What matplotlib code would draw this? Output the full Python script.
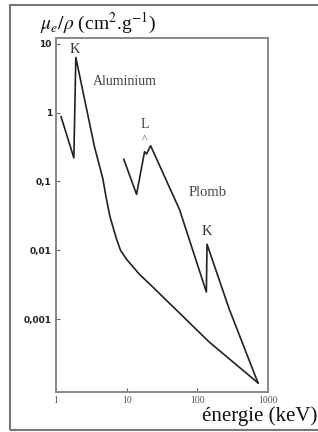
import matplotlib.pyplot as plt
from matplotlib.patches import Rectangle

plt.rcParams['mathtext.fontset'] = 'stix'

# energies (keV) and mass attenuation (cm2/g)
al_energy = [1.18, 1.79, 1.91, 3.5, 4.6, 5.1, 5.8, 7.2, 8.2, 10, 15.2, 23, 147, 720]
al_mu = [0.87, 0.22, 6.3, 0.32, 0.11, 0.06, 0.031, 0.0145, 0.01, 0.0074, 0.0045, 0.003, 4.7e-4, 1.2e-4]

pb_energy = [9.1, 13.8, 17.9, 19.1, 21.8, 56, 134, 137, 283, 720]
pb_mu = [0.21, 0.065, 0.27, 0.25, 0.33, 0.039, 0.0025, 0.0123, 0.0014, 1.2e-4]

x_ticks = [1, 10, 100, 1000]
x_labels = ["1", "10", "100", "1000"]
y_ticks = [10, 1, 0.1, 0.01, 0.001]
y_labels = ["10", "1", "0,1", "0,01", "0,001"]

fig = plt.figure(figsize=(3.18, 4.32), dpi=100)
ax = fig.add_axes([0.176, 0.093, 0.667, 0.819])

ax.plot(al_energy, al_mu, color="#222222", lw=1.2)
ax.plot(pb_energy, pb_mu, color="#222222", lw=1.2)

ax.set_xscale("log")
ax.set_yscale("log")
ax.set_xlim(1, 1000)
ax.set_ylim(10 ** -4.05, 10 ** 1.08)
ax.minorticks_off()

ax.set_xticks(x_ticks)
ax.set_xticklabels(x_labels, family="Liberation Serif", fontsize=7, color="#555555")
ax.set_yticks(y_ticks)
ax.set_yticklabels(y_labels, fontsize=6.5, fontweight="bold", color="#222222")
ax.tick_params(direction="in", length=3, width=0.8, color="#666666", pad=3)

for s in ax.spines.values():
    s.set_color("#888888")
    s.set_linewidth(1.4)

serif = "Liberation Serif"
ax.text(1.85, 8.2, "K", family=serif, fontsize=10.5, color="#333333", ha="center", va="center")
ax.text(3.3, 2.8, "Aluminium", family=serif, fontsize=10, color="#444444", ha="left", va="center")
ax.text(17.9, 0.67, "L", family=serif, fontsize=10, color="#444444", ha="center", va="center")
ax.text(18, 0.40, "^", family=serif, fontsize=8, color="#444444", ha="center", va="center")
ax.text(142, 0.069, "Plomb", family=serif, fontsize=10.5, color="#444444", ha="center", va="center")
ax.text(136, 0.019, "K", family=serif, fontsize=10.5, color="#333333", ha="center", va="center")

fig.text(0.125, 0.932, r"$\mu_e/\rho$ (cm$^2$.g$^{-1}$)", family=serif, fontsize=14, color="#111111")
fig.text(0.635, 0.026, "énergie (keV)", family=serif, fontsize=15, color="#111111")

fig.patches.append(Rectangle((10 / 318, 2 / 432), 1.1, 1 - 7 / 432, transform=fig.transFigure,
                             fill=False, edgecolor="#777777", lw=1.5))

fig.savefig("out.png", dpi=100)
